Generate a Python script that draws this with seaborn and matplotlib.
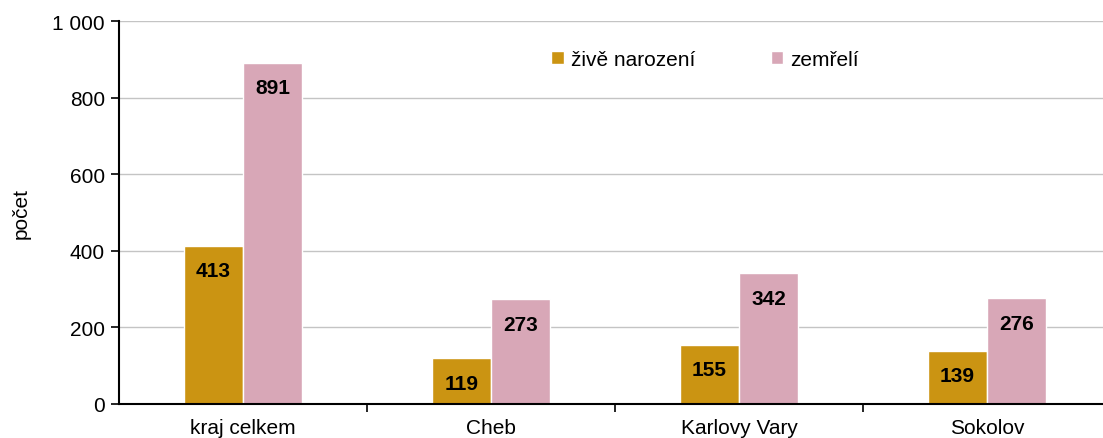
import pandas as pd
import matplotlib.pyplot as plt
import seaborn as sns
from matplotlib.ticker import FuncFormatter, FixedLocator

# data
okresy = ['kraj celkem', 'Cheb', 'Karlovy Vary', 'Sokolov']
zive_narozeni = [413, 119, 155, 139]
zemreli = [891, 273, 342, 276]
serie = ['živě narození', 'zemřelí']
barvy = ['#CB9412', '#D8A7B7']

df = pd.DataFrame({
    'okres': okresy * 2,
    'serie': [serie[0]] * 4 + [serie[1]] * 4,
    'pocet': zive_narozeni + zemreli,
})

sns.set_style('white')
plt.rcParams['font.family'] = ['Liberation Sans', 'DejaVu Sans']
plt.rcParams['font.size'] = 15
for k in ['text.color', 'axes.labelcolor', 'xtick.color', 'ytick.color']:
    plt.rcParams[k] = 'black'

fig = plt.figure(figsize=(11.03, 4.39), dpi=100)
ax = fig.add_axes([119 / 1103, 34 / 439, 992 / 1103, 383 / 439])

sns.barplot(data=df, x='okres', y='pocet', hue='serie', palette=barvy,
            width=0.476, saturation=1, ax=ax, legend=True)

for cont in ax.containers:
    for bar in cont:
        h = bar.get_height()
        ax.annotate(f'{h:.0f}', (bar.get_x() + bar.get_width() / 2, h),
                    xytext=(0, -18), textcoords='offset points', color='black',
                    ha='center', va='center', fontweight='bold', fontsize=15)

ax.set_ylim(0, 1000)
ax.set_xlim(-0.5, 3.5)
ax.set_yticks(range(0, 1001, 200))
ax.yaxis.set_major_formatter(FuncFormatter(lambda v, p: f'{v:,.0f}'.replace(',', ' ')))
ax.yaxis.grid(True, color='#C4C4C4', linewidth=1)
ax.set_axisbelow(True)

ax.xaxis.set_minor_locator(FixedLocator([0.5, 1.5, 2.5]))
ax.tick_params(axis='x', which='major', length=0, pad=10)
ax.tick_params(axis='x', which='minor', length=6, width=1.2, direction='out', color='black', bottom=True)
ax.tick_params(axis='y', length=6, width=1.2, direction='out', color='black', left=True, pad=4)

for s in ['top', 'right']:
    ax.spines[s].set_visible(False)
for s in ['left', 'bottom']:
    ax.spines[s].set_color('black')
    ax.spines[s].set_linewidth(1.5)

ax.set_xlabel('')
ax.set_ylabel('počet', labelpad=16)

h, l = ax.get_legend_handles_labels()
ax.legend(h, l, loc='center left', bbox_to_anchor=(541 / 1103, 1 - 60 / 439),
          bbox_transform=fig.transFigure, ncol=2, frameon=False, borderpad=0,
          handlelength=0.6, handleheight=0.6, handletextpad=0.35, columnspacing=3.6)

fig.savefig('out.png', dpi=100)
